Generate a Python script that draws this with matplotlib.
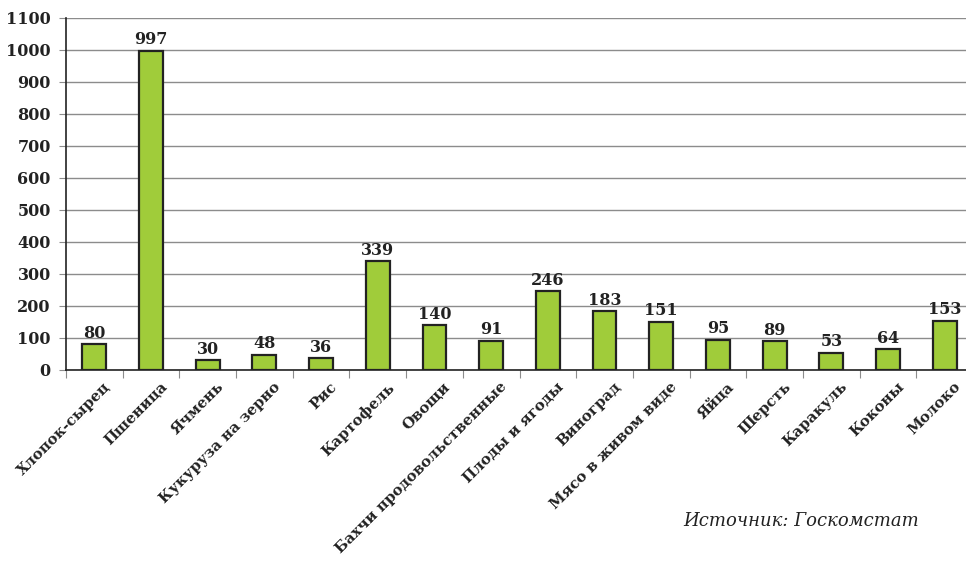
import matplotlib
matplotlib.use("Agg")
import matplotlib.pyplot as plt
import matplotlib.transforms as mtransforms
import numpy as np

# production, thousand tonnes
categories = ['Хлопок-сырец', 'Пшеница', 'Ячмень', 'Кукуруза на зерно', 'Рис',
              'Картофель', 'Овощи', 'Бахчи продовольственные', 'Плоды и ягоды',
              'Виноград', 'Мясо в живом виде', 'Яйца', 'Шерсть', 'Каракуль',
              'Коконы', 'Молоко']
values = [80, 997, 30, 48, 36, 339, 140, 91, 246, 183, 151, 95, 89, 53, 64, 153]
y_ticks = list(range(0, 1101, 100))
source = 'Источник: Госкомстат'

plt.rcParams['font.family'] = 'DejaVu Serif'

fig = plt.figure(figsize=(9.66, 5.61), dpi=100)
ax = fig.add_axes([0.0683, 0.3405, 0.939, 0.6275])

x = np.arange(len(categories))
bars = ax.bar(x, values, width=0.42, color='#a0cc3a', edgecolor='#222222',
              linewidth=1.6, zorder=3)

for xi, v in zip(x, values):
    ax.text(xi, v + 8, str(v), ha='center', va='bottom', fontsize=11.5,
            fontweight='bold', color='#222222')

ax.set_xlim(-0.5, len(categories) - 0.5)
ax.set_ylim(0, 1100)
ax.set_yticks(y_ticks)
ax.set_yticklabels([str(t) for t in y_ticks], fontsize=11.5, fontweight='bold',
                   color='#222222')
ax.yaxis.grid(True, color='#8c8c8c', linewidth=1.0, zorder=0)

# ticks between categories
ax.set_xticks(np.arange(len(categories) + 1) - 0.5)
ax.set_xticklabels([])
ax.set_xticks(x, minor=True)
ax.set_xticklabels(categories, minor=True, rotation=45, ha='right', va='top',
                   rotation_mode='anchor', fontsize=10.7, fontweight='bold',
                   color='#222222')
ax.tick_params(axis='x', which='minor', length=0, pad=7)
ax.tick_params(axis='x', which='major', length=6, color='#8c8c8c')
ax.tick_params(axis='y', length=5, color='#8c8c8c', pad=6)

# nudge rotated labels a little to the right, like the original
shift = mtransforms.ScaledTranslation(9 / 100, 0, fig.dpi_scale_trans)
for lbl in ax.get_xticklabels(minor=True):
    lbl.set_transform(lbl.get_transform() + shift)

for s in ['top', 'right']:
    ax.spines[s].set_visible(False)
ax.spines['left'].set_color('#222222')
ax.spines['bottom'].set_color('#222222')
ax.spines['left'].set_linewidth(1.2)
ax.spines['bottom'].set_linewidth(1.2)

fig.text(0.951, 0.072, source, ha='right', va='center', fontsize=13,
         style='italic', color='#222222')

fig.savefig('out.png', dpi=100)
